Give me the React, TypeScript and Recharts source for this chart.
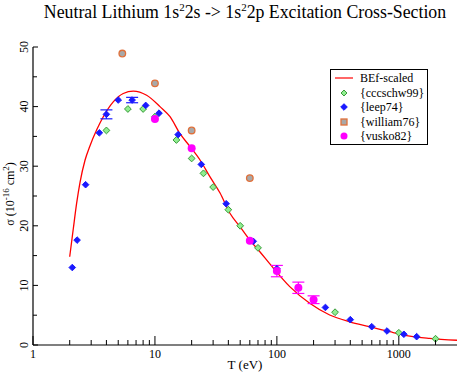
import {
  ComposedChart,
  Line,
  Scatter,
  XAxis,
  YAxis,
  ErrorBar,
} from "recharts";

// BEf-scaled curve
const curveT = [2, 2.14, 2.28, 2.43, 2.67, 2.93, 3.33, 3.77, 4.55, 5.5, 6.64, 8.55, 11, 13.3, 16, 19.4, 23.5, 28.3, 34.2, 41.2, 49.8, 60, 72.5, 87.6, 127.5, 186, 271, 395, 577, 842, 1230, 1790, 3000];
const curveS = [14.8, 19.5, 23.8, 27.3, 31.0, 33.4, 36.1, 38.3, 40.8, 42.2, 42.6, 41.9, 40.0, 38.3, 35.5, 33.3, 31.0, 28.2, 25.5, 22.1, 19.85, 17.6, 15.65, 13.6, 9.8, 7.0, 5.03, 3.9, 3.07, 2.23, 1.5, 1.12, 0.8];

const cccT = [4, 6, 8, 10, 15, 20, 25, 30, 40, 50, 70, 300, 1000, 2000];
const cccS = [36.0, 39.6, 39.6, 38.3, 34.4, 31.3, 28.8, 26.5, 22.7, 20.0, 16.3, 5.5, 2.05, 1.05];

const leepT = [2.1, 2.3, 2.7, 3.5, 4, 5, 6.5, 8.4, 10.8, 15.5, 24, 38.4, 64, 100, 250, 400, 600, 800, 1100, 1400];
const leepS = [13.0, 17.6, 26.9, 35.6, 38.7, 41.1, 41.1, 40.2, 38.9, 35.3, 30.3, 23.7, 17.4, 12.8, 6.3, 4.25, 3.07, 2.35, 1.8, 1.4];
const leepErr = [0, 0, 0, 0, 0.75, 0, 0.45, 0, 0, 0, 0, 0, 0, 0, 0, 0, 0, 0, 0, 0];

const willT = [5.4, 10, 20, 60];
const willS = [48.9, 43.9, 36.0, 28.0];

const vuskoT = [10, 20, 60, 100, 150, 200];
const vuskoS = [37.9, 33.0, 17.5, 12.4, 9.6, 7.6];
const vuskoErr = [0, 0, 0, 0.95, 0.95, 0.65];

const xMajor = [1, 10, 100, 1000];
const xTicks = [1, 2, 3, 4, 5, 6, 7, 8, 9, 10, 20, 30, 40, 50, 60, 70, 80, 90, 100, 200, 300, 400, 500, 600, 700, 800, 900, 1000, 2000];
const yTicks = [0, 5, 10, 15, 20, 25, 30, 35, 40, 45, 50];
const yMajor = [0, 10, 20, 30, 40, 50];

const FONT = "'Liberation Serif', 'Times New Roman', 'DejaVu Serif', serif";

const pts = (xs: number[], ys: number[], err?: number[]) =>
  xs.map((x, i) => ({ x, y: ys[i], err: err ? err[i] : 0 }));

const curve = pts(curveT, curveS);
const ccc = pts(cccT, cccS);
const leep = pts(leepT, leepS, leepErr);
const will = pts(willT, willS);
const vusko = pts(vuskoT, vuskoS, vuskoErr);

const Diamond = ({ cx, cy, fill, stroke, r }: any) => (
  <polygon
    points={`${cx},${cy - r} ${cx + r},${cy} ${cx},${cy + r} ${cx - r},${cy}`}
    fill={fill}
    stroke={stroke}
    strokeWidth={1}
  />
);

const greenShape = (p: any) => <Diamond cx={p.cx} cy={p.cy} r={3.4} fill="#90ee90" stroke="#3a9a3a" />;
const blueShape = (p: any) => <Diamond cx={p.cx} cy={p.cy} r={3.3} fill="#1a1aff" stroke="#1a1aff" />;
const willShape = (p: any) => (
  <circle cx={p.cx} cy={p.cy} r={3.3} fill="#a8a8a8" stroke="#e0703a" strokeWidth={1.3} />
);
const vuskoShape = (p: any) => <circle cx={p.cx} cy={p.cy} r={4} fill="#ff00ff" />;

const BottomTick = ({ x, y, payload }: any) => {
  const major = xMajor.includes(payload.value);
  return (
    <g>
      <line x1={x} x2={x} y1={y} y2={y - (major ? 9 : 5)} stroke="#000" />
      {major && (
        <text x={x} y={y + 13} textAnchor="middle" fontSize={12} style={{ fontFamily: FONT }} fill="#000">
          {payload.value}
        </text>
      )}
    </g>
  );
};

const TopTick = ({ x, y, payload }: any) => {
  const major = xMajor.includes(payload.value);
  return <line x1={x} x2={x} y1={y} y2={y + (major ? 9 : 5)} stroke="#000" />;
};

const LeftTick = ({ x, y, payload }: any) => {
  const major = yMajor.includes(payload.value);
  return (
    <g>
      <line x1={x} x2={x + (major ? 5 : 4)} y1={y} y2={y} stroke="#000" />
      {major && (
        <text
          x={x - 5}
          y={y}
          transform={`rotate(-90, ${x - 5}, ${y})`}
          textAnchor="middle"
          fontSize={12}
          style={{ fontFamily: FONT }}
          fill="#000"
        >
          {payload.value}
        </text>
      )}
    </g>
  );
};

const RightTick = ({ x, y, payload }: any) => {
  const major = yMajor.includes(payload.value);
  return <line x1={x} x2={x - (major ? 8 : 6)} y1={y} y2={y} stroke="#000" />;
};

const legendRows = [
  { name: "BEf-scaled", kind: "line" },
  { name: "{cccschw99}", kind: "ccc" },
  { name: "{leep74}", kind: "leep" },
  { name: "{william76}", kind: "will" },
  { name: "{vusko82}", kind: "vusko" },
];

const LegendIcon = ({ kind }: { kind: string }) => (
  <svg width={20} height={12} style={{ display: "block" }}>
    {kind === "line" && <line x1={1} x2={19} y1={6} y2={6} stroke="#ff0000" strokeWidth={1.2} />}
    {kind === "ccc" && <Diamond cx={10} cy={6} r={3} fill="#90ee90" stroke="#3a9a3a" />}
    {kind === "leep" && <Diamond cx={10} cy={6} r={3.3} fill="#1a1aff" stroke="#1a1aff" />}
    {kind === "will" && <rect x={7} y={3} width={6} height={6} fill="#a8a8a8" stroke="#e0703a" strokeWidth={1.3} />}
    {kind === "vusko" && <circle cx={10} cy={6} r={3.5} fill="#ff00ff" />}
  </svg>
);

const App = () => {
  return (
    <div style={{ position: "absolute", left: 0, top: 0, width: 458, height: 374, background: "#fff", fontFamily: FONT }}>
      <ComposedChart width={458} height={374} margin={{ top: 47, right: 1, bottom: 0, left: 0 }}>
        <XAxis
          xAxisId="b"
          dataKey="x"
          type="number"
          scale="log"
          domain={[1, 3000]}
          allowDataOverflow
          ticks={xTicks}
          interval={0}
          height={29}
          tickSize={0}
          tickMargin={0}
          tickLine={false}
          axisLine={{ stroke: "#000", strokeWidth: 1.2 }}
          tick={<BottomTick />}
        />
        <XAxis
          xAxisId="t"
          orientation="top"
          dataKey="x"
          type="number"
          scale="log"
          domain={[1, 3000]}
          allowDataOverflow
          ticks={xTicks}
          interval={0}
          height={0}
          tickSize={0}
          tickMargin={0}
          tickLine={false}
          axisLine={{ stroke: "#000", strokeWidth: 1.2 }}
          tick={<TopTick />}
        />
        <YAxis
          yAxisId="l"
          dataKey="y"
          type="number"
          domain={[0, 50]}
          ticks={yTicks}
          interval={0}
          width={33}
          tickSize={0}
          tickMargin={0}
          tickLine={false}
          axisLine={{ stroke: "#000", strokeWidth: 1.2 }}
          tick={<LeftTick />}
        />
        <YAxis
          yAxisId="r"
          orientation="right"
          dataKey="y"
          type="number"
          domain={[0, 50]}
          ticks={yTicks}
          interval={0}
          width={0}
          tickSize={0}
          tickMargin={0}
          tickLine={false}
          axisLine={{ stroke: "#000", strokeWidth: 1.2 }}
          tick={<RightTick />}
        />

        <Line
          xAxisId="b"
          yAxisId="l"
          data={curve}
          dataKey="y"
          type="monotone"
          stroke="#ff0000"
          strokeWidth={1.3}
          dot={false}
          isAnimationActive={false}
        />
        <Scatter xAxisId="t" yAxisId="r" data={[]} isAnimationActive={false} />
        <Scatter xAxisId="b" yAxisId="l" data={ccc} shape={greenShape} isAnimationActive={false} />
        <Scatter xAxisId="b" yAxisId="l" data={leep} shape={blueShape} isAnimationActive={false}>
          <ErrorBar dataKey="err" direction="y" width={6} stroke="#1a1aff" strokeWidth={1.2} />
        </Scatter>
        <Scatter xAxisId="b" yAxisId="l" data={will} shape={willShape} isAnimationActive={false} />
        <Scatter xAxisId="b" yAxisId="l" data={vusko} shape={vuskoShape} isAnimationActive={false}>
          <ErrorBar dataKey="err" direction="y" width={6} stroke="#ff00ff" strokeWidth={1.2} />
        </Scatter>
      </ComposedChart>

      {/* title and axis captions */}
      <svg
        width={458}
        height={374}
        style={{ position: "absolute", left: 0, top: 0, pointerEvents: "none", fontFamily: FONT }}
      >
        <text x={245} y={18} textAnchor="middle" fontSize={17.8} fill="#000">
          Neutral Lithium 1s
          <tspan fontSize={11} dy={-7}>2</tspan>
          <tspan dy={7}>2s -&gt; 1s</tspan>
          <tspan fontSize={11} dy={-7}>2</tspan>
          <tspan dy={7}>2p Excitation Cross-Section</tspan>
        </text>
        <text x={245} y={369} textAnchor="middle" fontSize={13} fill="#000">
          T (eV)
        </text>
        <text
          x={14}
          y={194}
          transform="rotate(-90, 14, 194)"
          textAnchor="middle"
          fontSize={12}
          fill="#000"
        >
          σ (10
          <tspan fontSize={9} dy={-5}>-16</tspan>
          <tspan dy={5}> cm</tspan>
          <tspan fontSize={9} dy={-5}>2</tspan>
          <tspan dy={5}>)</tspan>
        </text>
      </svg>

      <div
        style={{
          position: "absolute",
          left: 330,
          top: 69,
          width: 96,
          height: 74,
          border: "1px solid #000",
          background: "#fff",
        }}
      >
        <div style={{ height: 1 }} />
        {legendRows.map((r) => (
          <div key={r.name} style={{ display: "flex", alignItems: "center", height: 14.5 }}>
            <div style={{ marginLeft: 3, width: 20 }}>
              <LegendIcon kind={r.kind} />
            </div>
            <span style={{ marginLeft: 6, fontSize: 12, lineHeight: "14px" }}>{r.name}</span>
          </div>
        ))}
      </div>
    </div>
  );
};

export default App;
